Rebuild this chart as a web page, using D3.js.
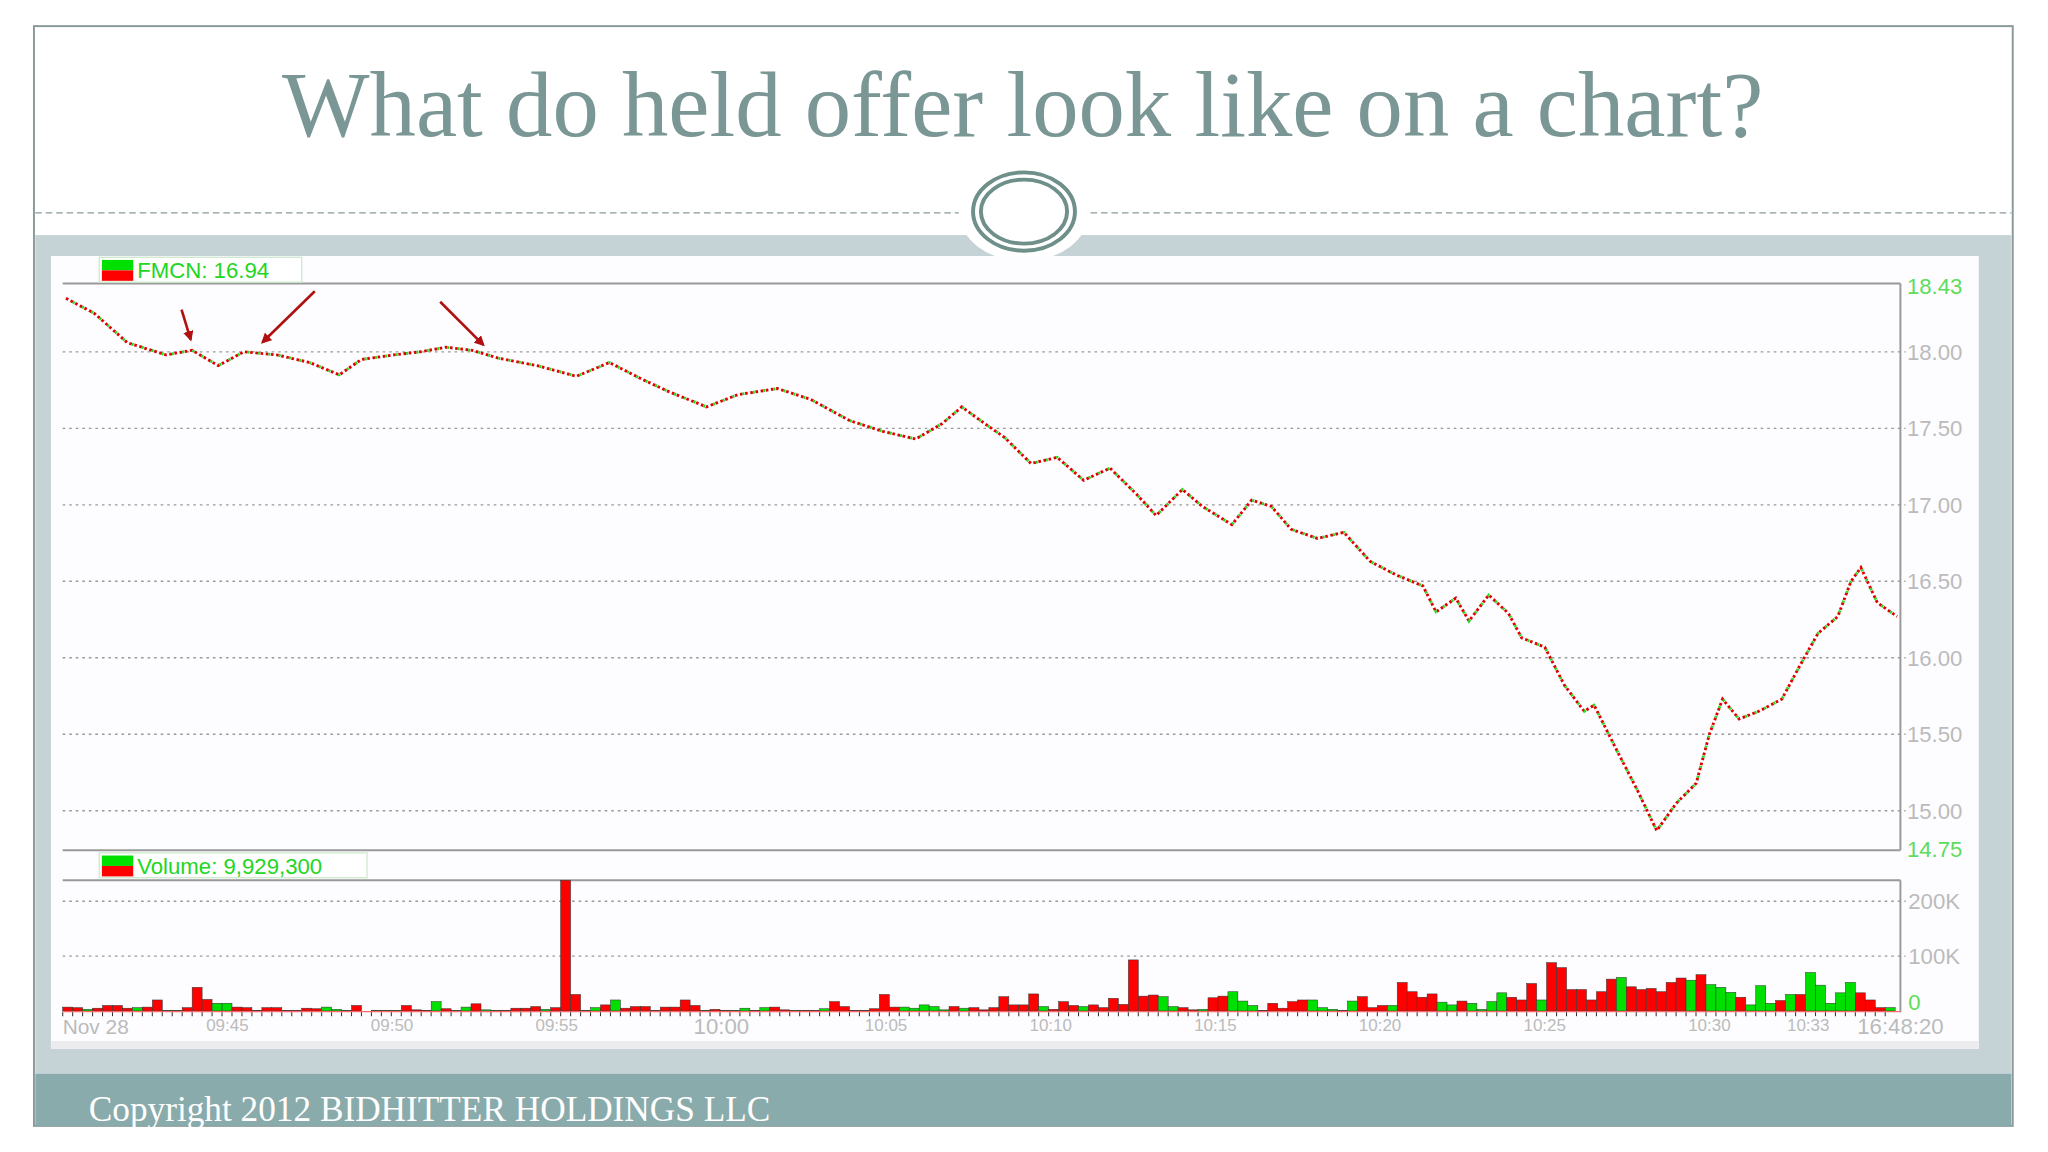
<!DOCTYPE html>
<html><head><meta charset="utf-8">
<script src="https://cdn.jsdelivr.net/npm/d3@7"></script>
<style>html,body{margin:0;padding:0;background:#fff;overflow:hidden}</style>
</head><body>
<svg id="c" width="2048" height="1152" viewBox="0 0 1568 882"></svg>
<script>
// ---- data ----
const priceTimes = [0.1,0.97,1.96,3.14,3.93,4.72,5.5,6.5,7.5,8.4,9.07,10.06,10.85,11.64,12.43,13.2,14.4,15.6,16.6,17.6,18.4,19.55,20.5,21.7,22.7,23.9,24.9,25.9,26.7,27.3,28.0,28.6,29.4,30.2,31.0,31.8,32.6,33.2,34.0,34.6,35.5,36.1,36.7,37.3,38.1,38.9,39.7,40.5,41.3,41.7,42.3,42.7,43.3,43.9,44.3,45.0,45.6,46.2,46.5,47.2,47.8,48.4,49.0,49.6,50.0,50.4,50.9,51.5,52.2,52.75,53.3,53.9,54.3,54.6,55.1,55.7];
const priceValues = [18.35,18.25,18.06,17.98,18.01,17.91,18.00,17.98,17.93,17.85,17.95,17.98,18.00,18.03,18.01,17.96,17.91,17.84,17.93,17.82,17.74,17.64,17.72,17.76,17.69,17.55,17.48,17.43,17.53,17.64,17.53,17.44,17.27,17.31,17.16,17.24,17.07,16.93,17.10,16.99,16.87,17.03,16.99,16.84,16.78,16.82,16.63,16.54,16.47,16.30,16.39,16.24,16.41,16.29,16.13,16.07,15.82,15.65,15.69,15.39,15.14,14.87,15.05,15.18,15.50,15.73,15.60,15.65,15.73,15.95,16.16,16.27,16.50,16.59,16.36,16.27];
const volumeK = [7,6,3,5,10,10,5,6,7,20,1,1,6,43,21,14,14,7,6,1,6,6,1,1,5,4,7,3,1,10,0,1,1,1,10,2,1,17,4,1,7,13,2,1,1,5,5,8,3,6,240,30,1,6,11,20,5,8,8,1,7,
 7,20,10,1,3,1,1,5,1,6,7,2,1,1,1,4,17,8,1,1,4,30,7,7,5,11,8,2,8,5,6,2,6,26,11,11,31,8,3,17,10,8,11,6,23,12,93,27,29,26,8,6,2,3,24,27,35,18,10,1,14,5,
 17,20,20,6,3,1,18,26,6,10,10,52,35,25,31,16,11,18,14,3,17,33,25,20,50,20,88,79,39,39,20,35,58,61,44,39,41,35,52,60,56,66,48,43,34,25,11,46,14,19,30,30,70,47,14,33,52,33,20,6,6];
const volumeDir = "rrgrrrrgrrggrrrggrrrrrrrrrgggrggggrrrgrggrggrrrrgrrrggrgrrrrr"+
 "rrrgrrggrgrrgrrgrrrrrrrgggggrgrrrrrrrgrrrgrrrrrrrggrrgrrgggrrrr"+
 "rgggrgrrrgrrrrggrggggrrrgrrrrrrrgrrrrrrgrgggrgggrgrgggggrrrgggrrr";
const timeTicks = [[5,"09:45"],[10,"09:50"],[15,"09:55"],[25,"10:05"],[30,"10:10"],[35,"10:15"],[40,"10:20"],[45,"10:25"],[50,"10:30"],[53,"10:33"]];
const priceTicks = [18.0,17.5,17.0,16.5,16.0,15.5,15.0];
const volTicks = [[0,"0"],[100,"100K"],[200,"200K"]];

const svg = d3.select("#c");
const teal = "#6f8f8a";
svg.append("rect").attr("x",26).attr("y",20).attr("width",1515).attr("height",842).attr("fill","#fff").attr("stroke","#8a9a9a").attr("stroke-width",1.5);
svg.append("text").attr("x",783).attr("y",104).attr("text-anchor","middle").attr("font-family","Liberation Serif, serif").attr("font-size",71).attr("fill","#7a9795").text("What do held offer look like on a chart?");
svg.append("line").attr("x1",27).attr("x2",1540).attr("y1",163).attr("y2",163).attr("stroke","#8a9a9a").attr("stroke-dasharray","5,3");
svg.append("rect").attr("x",27).attr("y",180).attr("width",1513).attr("height",642).attr("fill","#c5d3d6");
svg.append("ellipse").attr("cx",784).attr("cy",162).attr("rx",50).attr("ry",38).attr("fill","#fff");
svg.append("ellipse").attr("cx",784).attr("cy",162).attr("rx",39).attr("ry",30).attr("fill","none").attr("stroke",teal).attr("stroke-width",3);
svg.append("ellipse").attr("cx",784).attr("cy",162).attr("rx",33).attr("ry",24.5).attr("fill","none").attr("stroke",teal).attr("stroke-width",3);
svg.append("rect").attr("x",27).attr("y",822).attr("width",1513).attr("height",40).attr("fill","#8aabab");
svg.append("text").attr("x",68).attr("y",858).attr("font-family","Liberation Serif, serif").attr("font-size",27).attr("fill","#fff").text("Copyright 2012 BIDHITTER HOLDINGS LLC");
svg.append("rect").attr("x",39).attr("y",196).attr("width",1476).attr("height",607).attr("fill","#fdfdff");
svg.append("rect").attr("x",39).attr("y",797).attr("width",1476).attr("height",6).attr("fill","#ececee");

const L=48,R=1455;
const x = d3.scaleLinear().domain([0,55.8]).range([L,R]);
const y = d3.scaleLinear().domain([14.75,18.43]).range([650,219]);
const yv = d3.scaleLinear().domain([0,100]).range([774,732]);
const grid="#999";
const tf="Liberation Sans, Arial";
svg.append("line").attr("x1",L).attr("x2",R).attr("y1",217).attr("y2",217).attr("stroke","#999").attr("stroke-width",1.5);
svg.append("line").attr("x1",L).attr("x2",R).attr("y1",651).attr("y2",651).attr("stroke","#999").attr("stroke-width",1.5);
svg.append("line").attr("x1",R).attr("x2",R).attr("y1",217).attr("y2",651).attr("stroke","#999").attr("stroke-width",1.5);
priceTicks.forEach(p=>{
  svg.append("line").attr("x1",L).attr("x2",R+4).attr("y1",y(p)).attr("y2",y(p)).attr("stroke",grid).attr("stroke-dasharray","2,3");
  svg.append("text").attr("x",R+5).attr("y",y(p)+6).attr("font-family",tf).attr("font-size",17).attr("fill","#bbb").text(p.toFixed(2));
});
[18.43,14.75].forEach(p=>svg.append("text").attr("x",R+5).attr("y",y(p)+6).attr("font-family",tf).attr("font-size",17).attr("fill","#5ddc5d").text(p.toFixed(2)));
function legend(yy,label,w){
  svg.append("rect").attr("x",76).attr("y",yy).attr("width",w).attr("height",19).attr("fill","#fff").attr("stroke","#cfe9cf");
  svg.append("rect").attr("x",78).attr("y",yy+2).attr("width",24).attr("height",8).attr("fill","#00e000");
  svg.append("rect").attr("x",78).attr("y",yy+10).attr("width",24).attr("height",8).attr("fill","#f00");
  svg.append("text").attr("x",105).attr("y",yy+16).attr("font-family",tf).attr("font-size",17).attr("fill","#22d622").text(label);
}
legend(197,"FMCN: 16.94",155);
legend(653,"Volume: 9,929,300",205);
const line = d3.line().x((d,i)=>x(priceTimes[i])).y(d=>y(d));
svg.append("path").attr("d",line(priceValues)).attr("fill","none").attr("stroke","#e00000").attr("stroke-width",2.2).attr("stroke-dasharray","2,2");
svg.append("path").attr("d",line(priceValues)).attr("fill","none").attr("stroke","#22dd22").attr("stroke-width",2.2).attr("stroke-dasharray","1.5,6.5").attr("stroke-dashoffset",2);
const defs=svg.append("defs");
defs.append("marker").attr("id","ah").attr("viewBox","0 0 10 10").attr("refX",8).attr("refY",5).attr("markerWidth",4).attr("markerHeight",4).attr("orient","auto").append("path").attr("d","M0,0L10,5L0,10z").attr("fill","#b01010");
[[139,237,146,260],[241,223,201,262],[337,231,370,264]].forEach(a=>svg.append("line").attr("x1",a[0]).attr("y1",a[1]).attr("x2",a[2]).attr("y2",a[3]).attr("stroke","#b01010").attr("stroke-width",2).attr("marker-end","url(#ah)"));
svg.append("line").attr("x1",L).attr("x2",R).attr("y1",674).attr("y2",674).attr("stroke","#999").attr("stroke-width",1.5);
svg.append("line").attr("x1",R).attr("x2",R).attr("y1",674).attr("y2",775).attr("stroke","#999").attr("stroke-width",1.5);
volTicks.forEach(t=>{
  if(t[0]>0) svg.append("line").attr("x1",L).attr("x2",R+4).attr("y1",yv(t[0])).attr("y2",yv(t[0])).attr("stroke",grid).attr("stroke-dasharray","2,3");
  svg.append("text").attr("x",R+6).attr("y",yv(t[0])+(t[0]?6:-1)).attr("font-family",tf).attr("font-size",17).attr("fill",t[0]?"#bbb":"#5ddc5d").text(t[1]);
});
const xb = d3.scaleBand().domain(d3.range(volumeK.length)).range([L,R-4]).padding(0);
svg.append("g").selectAll("rect").data(volumeK).join("rect")
  .attr("x",(d,i)=>xb(i)).attr("width",xb.bandwidth())
  .attr("y",d=>Math.max(674,yv(d))).attr("height",d=>774-Math.max(674,yv(d)))
  .attr("fill",(d,i)=>volumeDir[i]==="g"?"#00e000":"#f00").attr("stroke","#333").attr("stroke-width",0.4);
svg.append("line").attr("x1",L).attr("x2",R).attr("y1",774.5).attr("y2",774.5).attr("stroke","#f66").attr("stroke-width",1);
svg.append("g").selectAll("line").data(volumeK).join("line").attr("x1",(d,i)=>xb(i)).attr("x2",(d,i)=>xb(i)).attr("y1",775).attr("y2",778).attr("stroke","#333").attr("stroke-width",0.8);
timeTicks.forEach(t=>svg.append("text").attr("x",x(t[0])).attr("y",789).attr("text-anchor","middle").attr("font-family",tf).attr("font-size",13).attr("fill","#bbb").text(t[1]));
svg.append("text").attr("x",x(20)).attr("y",792).attr("text-anchor","middle").attr("font-family",tf).attr("font-size",17).attr("fill","#bbb").text("10:00");
svg.append("text").attr("x",L).attr("y",792).attr("font-family",tf).attr("font-size",16).attr("fill","#bbb").text("Nov 28");
svg.append("text").attr("x",R).attr("y",792).attr("text-anchor","middle").attr("font-family",tf).attr("font-size",17).attr("fill","#bbb").text("16:48:20");
</script></body></html>
